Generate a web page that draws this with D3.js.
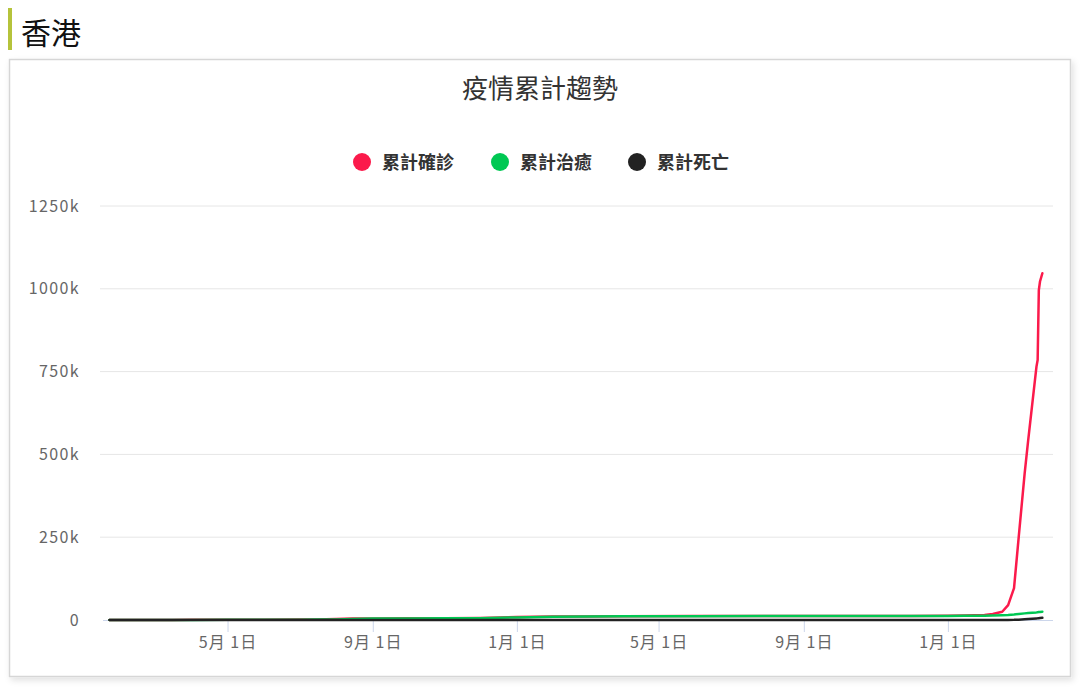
<!DOCTYPE html>
<html>
<head>
<meta charset="utf-8">
<script src="https://cdn.jsdelivr.net/npm/d3@7"></script>
<style>
  html, body { margin: 0; padding: 0; background: #fff; }
  svg { display: block; font-family: "Noto Sans CJK TC", "Noto Sans", sans-serif; }
</style>
</head>
<body>
<svg id="chart" width="1080" height="688"></svg>
<script>
// ----------------------
// data
// ----------------------
const dates = [
  "2020-01-22", "2020-02-15", "2020-03-15", "2020-04-01", "2020-05-01", "2020-06-01",
  "2020-07-01", "2020-07-15", "2020-08-01", "2020-08-15", "2020-09-01", "2020-10-01",
  "2020-11-01", "2020-12-01", "2021-01-01", "2021-02-01", "2021-03-01", "2021-04-01",
  "2021-06-01", "2021-09-01", "2021-12-01", "2022-01-01", "2022-01-15", "2022-02-01",
  "2022-02-08", "2022-02-16", "2022-02-21", "2022-02-26", "2022-03-02", "2022-03-07",
  "2022-03-10", "2022-03-17", "2022-03-18", "2022-03-19", "2022-03-20", "2022-03-22"
];
const confirmed = [
  0, 56, 157, 765, 1038, 1085,
  1206, 1655, 3273, 4312, 4811, 5100,
  5329, 6415, 8847, 10504, 10925, 11452,
  11838, 12134, 12431, 12650, 13300, 15100,
  18000, 25000, 45000, 96000, 252000, 443000,
  543000, 765000, 785000, 996000, 1022000, 1047000
];
const recovered = [
  0, 1, 90, 200, 820, 1030,
  1100, 1230, 1700, 2800, 4200, 4850,
  5100, 5400, 7800, 9800, 10500, 11000,
  11550, 11900, 12100, 12300, 12500, 13000,
  13600, 14500, 15200, 16500, 18000, 20000,
  21000, 23000, 23500, 24000, 24500, 25000
];
const deaths = [
  0, 1, 4, 4, 4, 4,
  7, 8, 27, 63, 89, 105,
  107, 109, 152, 183, 199, 203,
  210, 212, 213, 213, 213, 215,
  220, 250, 280, 500, 1000, 2000,
  2800, 4700, 5000, 5400, 5800, 6500
];
const seriesNames = ["累計確診", "累計治癒", "累計死亡"];
const seriesColors = ["#fb1a4b", "#00c853", "#222222"];
const yTicks = [0, 250000, 500000, 750000, 1000000, 1250000];
const xTicks = ["2020-05-01", "2020-09-01", "2021-01-01", "2021-05-01", "2021-09-01", "2022-01-01"];
const xDomain = ["2020-01-14", "2022-03-31"];

// ----------------------
// layout
// ----------------------
const svg = d3.select("#chart");
const parse = d3.timeParse("%Y-%m-%d");
const plot = { left: 100, right: 1053, top: 206, bottom: 620 };

const defs = svg.append("defs");
const shadow = defs.append("filter").attr("id", "shadow")
    .attr("x", "-5%").attr("y", "-5%").attr("width", "110%").attr("height", "110%");
shadow.append("feDropShadow")
    .attr("dx", 2).attr("dy", 3).attr("stdDeviation", 3)
    .attr("flood-color", "#000").attr("flood-opacity", 0.12);

// heading
svg.append("rect").attr("x", 8).attr("y", 8).attr("width", 4).attr("height", 42).attr("fill", "#b5c33b");
svg.append("text").attr("x", 21).attr("y", 44)
    .attr("font-size", 30).attr("fill", "#111").text("香港");

// card
svg.append("rect")
    .attr("x", 9.5).attr("y", 59.5).attr("width", 1061).attr("height", 617)
    .attr("fill", "#fff").attr("stroke", "#d6d6d6").attr("stroke-width", 1.5)
    .attr("filter", "url(#shadow)");

// title
svg.append("text").attr("x", 540).attr("y", 98)
    .attr("text-anchor", "middle").attr("font-size", 26).attr("fill", "#333")
    .text("疫情累計趨勢");

// legend
const legendX = [362, 500, 637];
const legend = svg.append("g").selectAll("g")
    .data(seriesNames)
    .join("g")
    .attr("transform", (d, i) => `translate(${legendX[i]},162)`);
legend.append("circle").attr("r", 9).attr("fill", (d, i) => seriesColors[i]);
legend.append("text")
    .attr("x", 20).attr("y", 6.5)
    .attr("font-size", 18).attr("font-weight", "bold").attr("fill", "#333")
    .text(d => d);

// ----------------------
// scales + axes
// ----------------------
const x = d3.scaleTime()
    .domain(xDomain.map(parse))
    .range([plot.left, plot.right]);
const y = d3.scaleLinear()
    .domain([0, 1250000])
    .range([plot.bottom, plot.top]);

// grid
svg.append("g").selectAll("line")
    .data(yTicks.filter(d => d > 0))
    .join("line")
    .attr("x1", plot.left).attr("x2", plot.right)
    .attr("y1", d => y(d)).attr("y2", d => y(d))
    .attr("stroke", "#e6e6e6").attr("stroke-width", 1);

// y labels
svg.append("g").selectAll("text")
    .data(yTicks)
    .join("text")
    .attr("x", 80).attr("y", d => y(d) + 5.5)
    .attr("text-anchor", "end").attr("font-size", 16).attr("fill", "#666")
    .attr("letter-spacing", 1.4)
    .text(d => d === 0 ? "0" : (d / 1000) + "k");

// x axis
const xAxisG = svg.append("g").attr("transform", `translate(0,${plot.bottom})`);
xAxisG.call(d3.axisBottom(x)
    .tickValues(xTicks.map(parse))
    .tickSize(12)
    .tickPadding(5)
    .tickFormat(d => `${d.getMonth() + 1}月 ${d.getDate()}日`));
xAxisG.select(".domain").attr("stroke", "#ccd6eb").attr("d", `M${plot.left + 3},0.5H${plot.right}`);
xAxisG.selectAll(".tick line").attr("stroke", "#ccd6eb");
xAxisG.selectAll(".tick text")
    .attr("font-size", 16).attr("fill", "#666")
    .attr("letter-spacing", 1)
    .attr("font-family", "\"Noto Sans CJK TC\", sans-serif");

// ----------------------
// lines
// ----------------------
const series = [confirmed, recovered, deaths].map((vals, i) => ({
    name: seriesNames[i],
    color: seriesColors[i],
    values: dates.map((dt, j) => ({ date: parse(dt), value: vals[j] }))
}));

const lineGen = d3.line()
    .x(d => x(d.date))
    .y(d => y(d.value));

svg.append("g").selectAll("path")
    .data(series)
    .join("path")
    .attr("fill", "none")
    .attr("stroke", d => d.color)
    .attr("stroke-width", 2.5)
    .attr("stroke-linejoin", "round")
    .attr("stroke-linecap", "round")
    .attr("d", d => lineGen(d.values));
</script>
</body>
</html>
